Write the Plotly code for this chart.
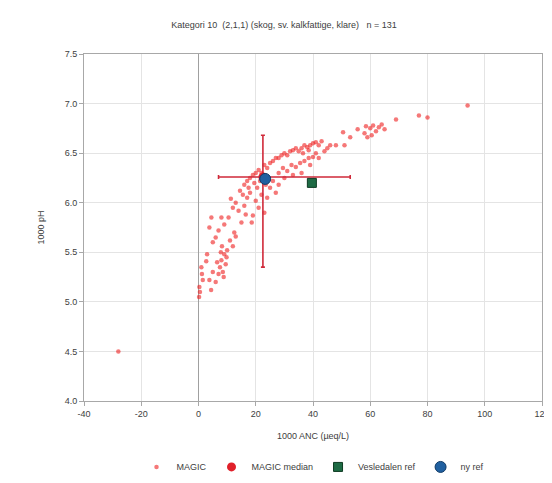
import plotly.graph_objects as go

title_text = "Kategori 10  (2,1,1) (skog, sv. kalkfattige, klare)   n = 131"
x_title = "1000 ANC (µeq/L)"
y_title = "1000 pH"

magic_anc = [
    -28.0,
    0.3, 0.5, 1.0, 1.5, 2.7, 3.8, 4.4, 5.0, 6.0, 3.0,
    7.0, 7.5, 8.0, 8.5, 9.0, 9.5, 10.0, 7.8, 8.8, 9.8, 6.5, 8.2,
    3.8, 6.0, 8.0, 10.5, 12.0, 11.0, 12.5, 5.0, 7.0, 9.0, 13.0, 4.5,
    11.3, 15.0, 16.0, 17.0, 18.0, 19.0, 18.6, 14.0, 13.0, 12.0, 15.5, 17.5, 20.0, 21.0, 22.0, 24.0, 23.0, 16.5,
    14.5, 16.0, 17.0, 18.0, 19.0, 20.0, 21.0, 22.0, 19.5, 21.5, 20.5, 23.5, 25.0, 26.0, 27.0, 28.0,
    23.0, 24.0, 25.0, 26.0, 27.0, 28.0, 29.0, 30.0, 31.0, 32.0, 33.0, 34.0, 35.0, 36.0, 37.0, 38.0, 39.0, 40.0, 41.0, 42.0, 43.0, 36.5, 38.5,
    28.0, 29.5, 31.0, 32.5, 34.0, 35.5, 37.0, 38.5, 40.0, 42.0, 30.0, 33.0, 36.0, 39.0, 41.0, 44.0,
    46.0, 48.0, 51.0, 50.5, 53.0, 55.6, 58.0, 59.0, 60.0, 61.0, 62.0, 63.0, 64.0, 65.0, 58.5, 60.5, 69.0, 77.0, 80.0, 94.0,
    0.2, 1.2, 45.0,
]
magic_ph = [
    4.50,
    5.15, 5.10, 5.35, 5.22, 5.41, 5.22, 5.12, 5.30, 5.20, 5.48,
    5.28, 5.35, 5.42, 5.30, 5.48, 5.38, 5.52, 5.50, 5.25, 5.45, 5.40, 5.56,
    5.75, 5.65, 5.85, 5.85, 5.56, 5.62, 5.70, 5.60, 5.72, 5.78, 5.66, 5.85,
    6.04, 5.80, 5.97, 6.05, 6.10, 5.87, 5.80, 5.92, 6.00, 5.95, 6.08, 6.15, 6.02, 5.95, 6.08, 6.05, 5.90, 5.88,
    6.12, 6.18, 6.22, 6.25, 6.28, 6.30, 6.33, 6.30, 6.20, 6.22, 6.15, 6.18, 6.15, 6.22, 6.10, 6.18,
    6.38, 6.35, 6.40, 6.42, 6.45, 6.45, 6.48, 6.50, 6.48, 6.52, 6.53, 6.55, 6.52, 6.55, 6.58, 6.56, 6.58, 6.60, 6.61, 6.58, 6.62, 6.50, 6.53,
    6.30, 6.35, 6.32, 6.38, 6.36, 6.40, 6.42, 6.45, 6.46, 6.45, 6.25, 6.28, 6.30, 6.38, 6.50, 6.52,
    6.58, 6.58, 6.58, 6.71, 6.66, 6.74, 6.70, 6.66, 6.75, 6.78, 6.72, 6.76, 6.79, 6.74, 6.77, 6.68, 6.84, 6.88, 6.86, 6.98,
    5.05, 5.28, 6.55,
]

median_anc = [22.5]
median_ph = [6.26]
median_anc_minus = [15.5]
median_anc_plus = [30.5]
median_ph_minus = [0.91]
median_ph_plus = [0.42]

vref_anc = [39.6]
vref_ph = [6.20]

nyref_anc = [23.3]
nyref_ph = [6.24]

x_ticks = [-40, -20, 0, 20, 40, 60, 80, 100, 120]
y_ticks = [4.0, 4.5, 5.0, 5.5, 6.0, 6.5, 7.0, 7.5]

font_fam = "Liberation Sans, Arial, sans-serif"
txt = "#404040"

fig = go.Figure()
fig.add_trace(go.Scatter(
    x=magic_anc, y=magic_ph, mode="markers", name="MAGIC",
    marker=dict(color="rgba(238,30,30,0.6)", size=4.5, line=dict(width=0)),
))
fig.add_trace(go.Scatter(
    x=median_anc, y=median_ph, mode="markers", name="MAGIC median",
    marker=dict(color="#e0202a", size=9),
    error_x=dict(type="data", symmetric=False, array=median_anc_plus, arrayminus=median_anc_minus,
                 color="#d02a3a", thickness=1.6, width=2),
    error_y=dict(type="data", symmetric=False, array=median_ph_plus, arrayminus=median_ph_minus,
                 color="#d02a3a", thickness=1.6, width=2),
))
fig.add_trace(go.Scatter(
    x=vref_anc, y=vref_ph, mode="markers", name="Vesledalen ref",
    marker=dict(color="#1e6b45", size=9, symbol="square", line=dict(color="#0d3a22", width=1)),
))
fig.add_trace(go.Scatter(
    x=nyref_anc, y=nyref_ph, mode="markers", name="ny ref",
    marker=dict(color="#2060a0", size=11, symbol="circle", line=dict(color="#103a66", width=1)),
))

fig.update_layout(
    width=552, height=483,
    margin=dict(l=76, r=10, t=46, b=83),
    paper_bgcolor="white", plot_bgcolor="white",
    font=dict(family=font_fam, size=9, color=txt),
    title=dict(text=title_text, x=0.5, xanchor="center", y=1 - 17 / 483, yanchor="middle",
               font=dict(size=9, color=txt)),
    showlegend=True,
    legend=dict(orientation="h", x=0.5, xanchor="center", y=-0.19, yanchor="middle",
                font=dict(size=9, color=txt), bgcolor="rgba(0,0,0,0)", itemwidth=30),
    xaxis=dict(range=[-40, 120], tickvals=x_ticks, ticktext=[str(v) for v in x_ticks],
               showgrid=True, gridcolor="#e4e4e4", gridwidth=1,
               zeroline=True, zerolinecolor="#a0a0a0", zerolinewidth=1,
               showline=True, linecolor="#a8a8a8", mirror=True, linewidth=1,
               ticks="outside", ticklen=4, tickcolor="#a8a8a8",
               title=dict(text=x_title, standoff=14, font=dict(size=9, color=txt))),
    yaxis=dict(range=[4.0, 7.5], tickvals=y_ticks, ticktext=[f"{v:.1f}" for v in y_ticks],
               showgrid=True, gridcolor="#e4e4e4", gridwidth=1, zeroline=False,
               showline=True, linecolor="#a8a8a8", mirror=True, linewidth=1,
               ticks="outside", ticklen=4, tickcolor="#a8a8a8",
               title=dict(text=y_title, standoff=18, font=dict(size=9, color=txt))),
)

fig.write_html("out.html")
